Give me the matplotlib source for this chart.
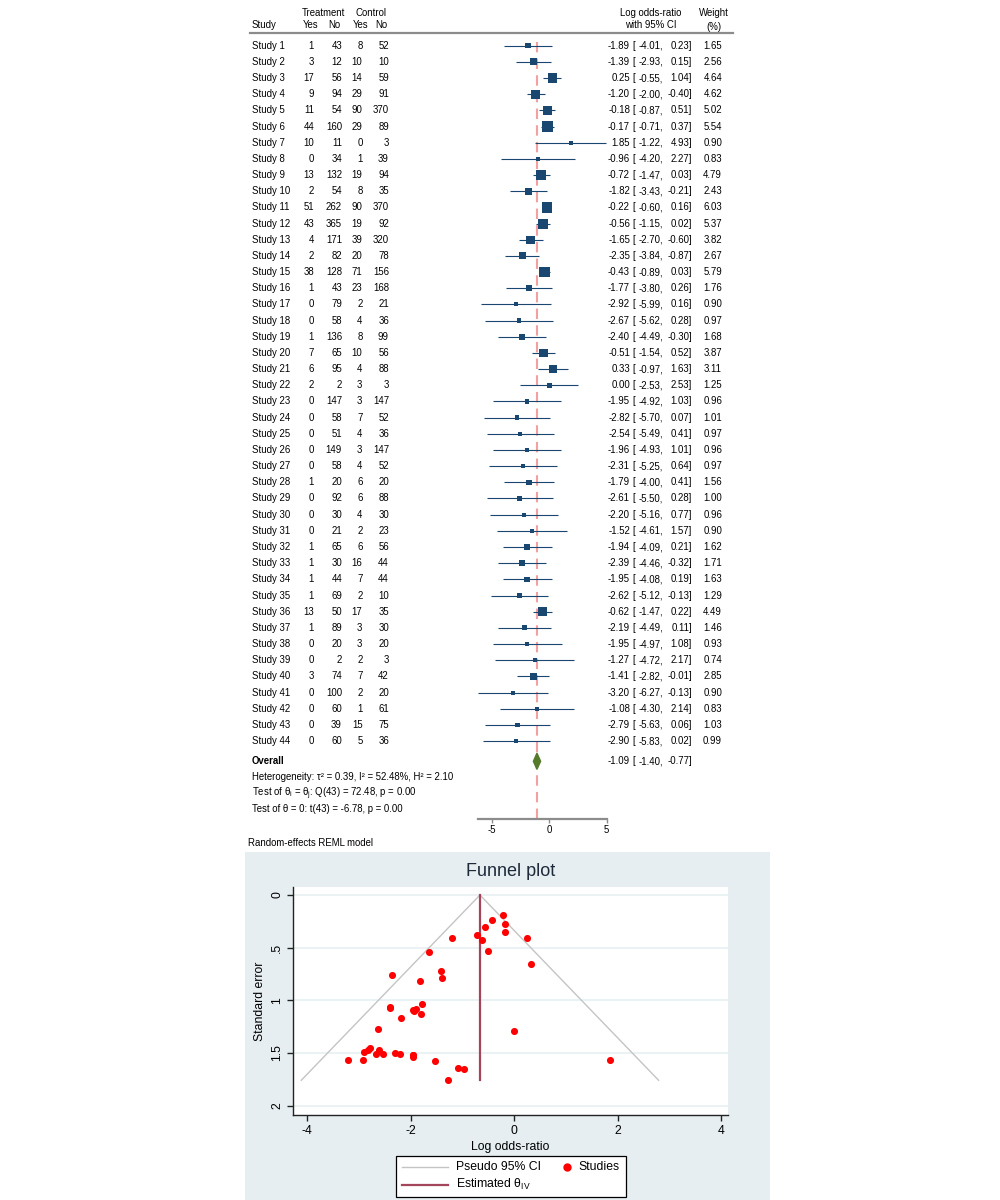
import numpy as np
import matplotlib
matplotlib.use('Agg')
import matplotlib.pyplot as plt
import matplotlib.transforms as mtransforms
from matplotlib.lines import Line2D
from matplotlib.patches import Rectangle, Polygon

plt.rcParams['font.family'] = ['Liberation Sans', 'DejaVu Sans']
plt.rcParams['mathtext.fontset'] = 'custom'
plt.rcParams['mathtext.rm'] = 'Liberation Sans'
plt.rcParams['mathtext.it'] = 'Liberation Sans'
plt.rcParams['axes.unicode_minus'] = False

# --- data ---
studies = ["Study %d" % i for i in range(1, 45)]
treat_yes = [1, 3, 17, 9, 11, 44, 10, 0, 13, 2, 51, 43, 4, 2, 38, 1, 0, 0, 1, 7, 6, 2,
             0, 0, 0, 0, 0, 1, 0, 0, 0, 1, 1, 1, 1, 13, 1, 0, 0, 3, 0, 0, 0, 0]
treat_no = [43, 12, 56, 94, 54, 160, 11, 34, 132, 54, 262, 365, 171, 82, 128, 43, 79, 58, 136, 65, 95, 2,
            147, 58, 51, 149, 58, 20, 92, 30, 21, 65, 30, 44, 69, 50, 89, 20, 2, 74, 100, 60, 39, 60]
ctrl_yes = [8, 10, 14, 29, 90, 29, 0, 1, 19, 8, 90, 19, 39, 20, 71, 23, 2, 4, 8, 10, 4, 3,
            3, 7, 4, 3, 4, 6, 6, 4, 2, 6, 16, 7, 2, 17, 3, 3, 2, 7, 2, 1, 15, 5]
ctrl_no = [52, 10, 59, 91, 370, 89, 3, 39, 94, 35, 370, 92, 320, 78, 156, 168, 21, 36, 99, 56, 88, 3,
           147, 52, 36, 147, 52, 20, 88, 30, 23, 56, 44, 44, 10, 35, 30, 20, 3, 42, 20, 61, 75, 36]
log_or = [-1.89, -1.39, 0.25, -1.20, -0.18, -0.17, 1.85, -0.96, -0.72, -1.82, -0.22, -0.56, -1.65, -2.35,
          -0.43, -1.77, -2.92, -2.67, -2.40, -0.51, 0.33, 0.00, -1.95, -2.82, -2.54, -1.96, -2.31, -1.79,
          -2.61, -2.20, -1.52, -1.94, -2.39, -1.95, -2.62, -0.62, -2.19, -1.95, -1.27, -1.41, -3.20, -1.08,
          -2.79, -2.90]
ci_low = [-4.01, -2.93, -0.55, -2.00, -0.87, -0.71, -1.22, -4.20, -1.47, -3.43, -0.60, -1.15, -2.70, -3.84,
          -0.89, -3.80, -5.99, -5.62, -4.49, -1.54, -0.97, -2.53, -4.92, -5.70, -5.49, -4.93, -5.25, -4.00,
          -5.50, -5.16, -4.61, -4.09, -4.46, -4.08, -5.12, -1.47, -4.49, -4.97, -4.72, -2.82, -6.27, -4.30,
          -5.63, -5.83]
ci_high = [0.23, 0.15, 1.04, -0.40, 0.51, 0.37, 4.93, 2.27, 0.03, -0.21, 0.16, 0.02, -0.60, -0.87,
           0.03, 0.26, 0.16, 0.28, -0.30, 0.52, 1.63, 2.53, 1.03, 0.07, 0.41, 1.01, 0.64, 0.41,
           0.28, 0.77, 1.57, 0.21, -0.32, 0.19, -0.13, 0.22, 0.11, 1.08, 2.17, -0.01, -0.13, 2.14,
           0.06, 0.02]
weights = [1.65, 2.56, 4.64, 4.62, 5.02, 5.54, 0.90, 0.83, 4.79, 2.43, 6.03, 5.37, 3.82, 2.67, 5.79, 1.76,
           0.90, 0.97, 1.68, 3.87, 3.11, 1.25, 0.96, 1.01, 0.97, 0.96, 0.97, 1.56, 1.00, 0.96, 0.90, 1.62,
           1.71, 1.63, 1.29, 4.49, 1.46, 0.93, 0.74, 2.85, 0.90, 0.83, 1.03, 0.99]
overall_est, overall_lo, overall_hi = -1.09, -1.40, -0.77

# --- data ---
std_err = [1.08, 0.79, 0.41, 0.41, 0.35, 0.28, 1.57, 1.65, 0.38, 0.82, 0.19, 0.30, 0.54, 0.76, 0.24, 1.04,
           1.57, 1.51, 1.07, 0.53, 0.66, 1.29, 1.52, 1.47, 1.51, 1.52, 1.50, 1.13, 1.47, 1.51, 1.58, 1.10,
           1.06, 1.09, 1.27, 0.43, 1.17, 1.54, 1.76, 0.72, 1.57, 1.64, 1.45, 1.49]
theta_iv = -0.66

W, H = 1000, 1200
navy = '#1a476f'
fs = 6.9

fig = plt.figure(figsize=(10, 12), dpi=100)

def ftext(x, y, s, **kw):
    size = kw.pop('fontsize', fs)
    fig.text(x / W, 1 - y / H, s, fontsize=size, **kw)

# header
ftext(252, 27.5, "Study", va='baseline')
ftext(323, 15.5, "Treatment", ha='center', va='baseline')
ftext(371, 15.5, "Control", ha='center', va='baseline')
for x, s in [(318, "Yes"), (340, "No"), (368, "Yes"), (387, "No")]:
    ftext(x, 27.5, s, ha='right', va='baseline')
ftext(651, 15.5, "Log odds-ratio", ha='center', va='baseline')
ftext(651, 28, "with 95% CI", ha='center', va='baseline')
ftext(714, 15.5, "Weight", ha='center', va='baseline')
ftext(714, 30, "(%)", ha='center', va='baseline')
fig.add_artist(Line2D([250 / W, 733 / W], [1 - 33 / H, 1 - 33 / H], transform=fig.transFigure,
                      color='#8c8c8c', lw=1.6))

# forest axes
ax = fig.add_axes([477.7 / W, 1 - 819 / H, 128.9 / W, (819 - 36) / H])
ax.set_xlim(-6.27, 5)
ax.set_ylim(48.82, 0.40)
rows = np.arange(1, len(studies) + 1)
overall_row = 45.25

ax.axvline(overall_est, color='#f2a0a0', lw=1.5, ls=(0, (5, 3)), zorder=1)
ax.hlines(rows, ci_low, ci_high, color=navy, lw=0.8, zorder=2)
ax.scatter(log_or, rows, s=9.6 * np.array(weights), marker='s', color=navy, lw=0, zorder=3)
ax.add_patch(Polygon([[overall_lo, overall_row], [overall_est, overall_row - 0.5],
                      [overall_hi, overall_row], [overall_est, overall_row + 0.5]],
                     closed=True, color='#557a2c', zorder=3))

for s in ['left', 'top', 'right']:
    ax.spines[s].set_visible(False)
ax.spines['bottom'].set_color('#8c8c8c')
ax.spines['bottom'].set_linewidth(1.6)
ax.set_yticks([])
ax.set_xticks([-5, 0, 5])
ax.tick_params(axis='x', colors='#8c8c8c', length=3, width=1, labelsize=fs, pad=1.5, labelcolor='black')
ax.patch.set_alpha(0)

# table columns (x in figure pixels, y in row units)
tr = mtransforms.blended_transform_factory(fig.transFigure, ax.transData)
def rtext(x, y, s, **kw):
    ax.text(x / W, y, s, transform=tr, fontsize=fs, va='center', clip_on=False, **kw)

for i, r in enumerate(rows):
    rtext(252, r, studies[i], ha='left')
    rtext(314, r, str(treat_yes[i]), ha='right')
    rtext(342, r, str(treat_no[i]), ha='right')
    rtext(362.5, r, str(ctrl_yes[i]), ha='right')
    rtext(389, r, str(ctrl_no[i]), ha='right')
    rtext(630, r, "%.2f" % log_or[i], ha='right')
    rtext(632, r, "[", ha='left')
    rtext(663, r, "%.2f," % ci_low[i], ha='right')
    rtext(692, r, "%.2f]" % ci_high[i], ha='right')
    rtext(722, r, "%.2f" % weights[i], ha='right')

rtext(252, overall_row, "Overall", ha='left', fontweight='bold')
rtext(630, overall_row, "%.2f" % overall_est, ha='right')
rtext(632, overall_row, "[", ha='left')
rtext(663, overall_row, "%.2f," % overall_lo, ha='right')
rtext(692, overall_row, "%.2f]" % overall_hi, ha='right')

ftext(252, 780.5, "Heterogeneity: τ² = 0.39, I² = 52.48%, H² = 2.10", va='baseline')
ftext(252, 796.5, r"Test of θ$_{\mathrm{i}}$ = θ$_{\mathrm{j}}$: Q(43) = 72.48, p = 0.00", va='baseline')
ftext(252, 812.5, "Test of θ = 0: t(43) = -6.78, p = 0.00", va='baseline')
ftext(248, 846.5, "Random-effects REML model", va='baseline')

# funnel plot panel
fig.add_artist(Rectangle((245 / W, 0), (770 - 245) / W, (1200 - 852) / H, transform=fig.transFigure,
                         facecolor='#e6eef1', edgecolor='none', zorder=0))
ax2 = fig.add_axes([293 / W, 1 - 1115 / H, 435 / W, 228 / H])
ax2.set_facecolor('white')
ax2.set_xlim(-4.27, 4.13)
ax2.set_ylim(2.09, -0.076)
se_max = max(std_err)
ci_color = '#c4c4c4'
iv_color = '#a3465b'
ax2.plot([theta_iv - 1.96 * se_max, theta_iv, theta_iv + 1.96 * se_max], [se_max, 0, se_max],
         color=ci_color, lw=1, zorder=2)
ax2.plot([theta_iv, theta_iv], [0, se_max], color=iv_color, lw=1.6, zorder=3)
ax2.scatter(log_or, std_err, s=26, color='#ff0000', lw=0, zorder=4)

ax2.set_yticks([0, 0.5, 1, 1.5, 2])
ax2.set_yticklabels(['0', '.5', '1', '1.5', '2'], rotation=90, va='center')
ax2.set_xticks([-4, -2, 0, 2, 4])
ax2.yaxis.grid(True, color='#e8f0f2', lw=1.2, zorder=0)
ax2.set_axisbelow(True)
for s in ['top', 'right']:
    ax2.spines[s].set_visible(False)
for s in ['left', 'bottom']:
    ax2.spines[s].set_color('#222222')
    ax2.spines[s].set_linewidth(1)
ax2.tick_params(labelsize=8.8, length=4, width=1, color='#222222', pad=3)
ax2.set_xlabel('Log odds-ratio', fontsize=8.8, labelpad=3)
ax2.set_ylabel('Standard error', fontsize=8.8, labelpad=4)
ax2.set_title('Funnel plot', fontsize=13, color='#1e2a3a', pad=8)

# legend box drawn in figure pixels
fig.add_artist(Rectangle((396 / W, 1 - 1197 / H), 230 / W, 41 / H, transform=fig.transFigure,
                         facecolor='white', edgecolor='black', lw=0.9, zorder=5))
fig.add_artist(Line2D([402 / W, 448 / W], [1 - 1166.5 / H] * 2, transform=fig.transFigure,
                      color=ci_color, lw=1, zorder=6))
fig.add_artist(Line2D([402 / W, 448 / W], [1 - 1185 / H] * 2, transform=fig.transFigure,
                      color=iv_color, lw=1.6, zorder=6))
fig.add_artist(Line2D([567 / W], [1 - 1167 / H], transform=fig.transFigure, marker='o', ms=5,
                      color='#ff0000', lw=0, zorder=6))
ftext(456, 1166.5, "Pseudo 95% CI", fontsize=8.8, va='center', zorder=6)
ftext(578, 1166.5, "Studies", fontsize=8.8, va='center', zorder=6)
ftext(456, 1184, r"Estimated θ$_{\mathrm{IV}}$", fontsize=8.8, va='center', zorder=6)

fig.savefig('out.png', dpi=100, facecolor='white')
